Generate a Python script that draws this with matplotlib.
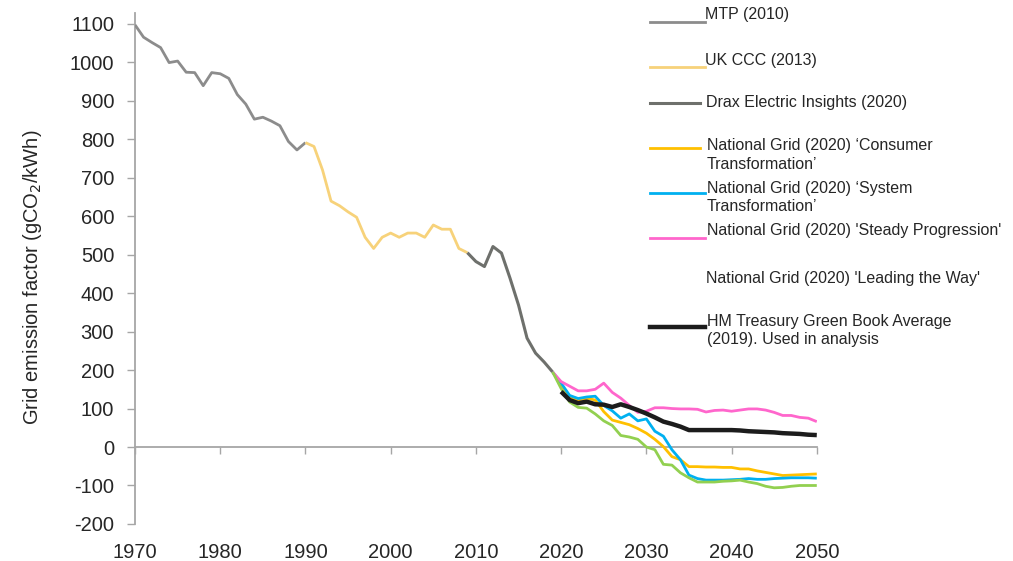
"""
Grid emission factor projections, UK, 1970-2050.
"""
import matplotlib
matplotlib.use("Agg")
import matplotlib.pyplot as plt
from matplotlib.lines import Line2D

plt.rcParams['font.family'] = ['Liberation Sans', 'DejaVu Sans']
plt.rcParams['axes.unicode_minus'] = False

# --- data (gCO2/kWh) ---
mtp_years = list(range(1970, 1991))
mtp_vals = [1097, 1065, 1051, 1038, 999, 1003, 974, 973, 939, 973, 970,
            958, 916, 891, 852, 857, 847, 835, 794, 772, 791]

ccc_years = list(range(1990, 2010))
ccc_vals = [791, 781, 720, 639, 627, 611, 597, 545, 516, 545, 556,
            545, 556, 556, 545, 577, 566, 566, 516, 505]

drax_years = list(range(2009, 2020))
drax_vals = [505, 482, 469, 521, 504, 439, 369, 283, 244, 221, 195]

scen_years = list(range(2019, 2051))
consumer_vals = [195, 162, 131, 122, 127, 122, 92, 70, 64, 58, 48,
                 36, 20, 1, -25, -33, -51, -51, -52, -52, -53,
                 -53, -57, -57, -62, -66, -70, -74, -73, -72, -71, -70]
system_vals = [195, 166, 134, 126, 130, 132, 108, 94, 75, 86, 68,
               73, 41, 28, -7, -33, -73, -82, -86, -86, -86,
               -85, -84, -82, -84, -84, -82, -81, -80, -80, -80, -81]
steady_vals = [195, 170, 158, 146, 146, 150, 166, 142, 127, 108, 90,
               93, 102, 102, 100, 99, 99, 98, 91, 95, 96,
               93, 96, 99, 99, 96, 90, 82, 82, 77, 75, 66]
leading_vals = [195, 152, 117, 103, 101, 86, 68, 56, 30, 26, 20,
                0, -7, -45, -47, -67, -80, -91, -91, -91, -89,
                -88, -86, -91, -95, -102, -106, -105, -102, -100, -100, -100]

hmt_years = list(range(2020, 2051))
hmt_vals = [144, 122, 114, 118, 111, 110, 104, 111, 104, 96,
            87, 77, 66, 60, 53, 44, 44, 44, 44, 44,
            44, 43, 41, 40, 39, 38, 36, 35, 34, 32, 31]

labels = ['MTP (2010)', 'UK CCC (2013)', 'Drax Electric Insights (2020)',
          "National Grid (2020) \u2018Consumer\nTransformation\u2019",
          "National Grid (2020) \u2018System\nTransformation\u2019",
          "National Grid (2020) 'Steady Progression'",
          "National Grid (2020) 'Leading the Way'",
          'HM Treasury Green Book Average\n(2019). Used in analysis']
colors = ['#8c8c8c', '#f7d27a', '#6e706c', '#ffc000', '#00b0f0',
          '#ff66cc', '#92d050', '#1c1c1c']
widths = [2.0, 2.0, 2.2, 2.0, 2.0, 2.0, 2.0, 3.2]

AXIS_GREY = '#a6a6a6'


def main():
    fig = plt.figure(figsize=(10.13, 5.61), dpi=100)
    ax = fig.add_axes([0.1333, 0.0660, 0.673, 0.9109])

    series = [(mtp_years, mtp_vals), (ccc_years, ccc_vals),
              (drax_years, drax_vals), (scen_years, consumer_vals),
              (scen_years, system_vals), (scen_years, steady_vals),
              (scen_years, leading_vals), (hmt_years, hmt_vals)]
    for i, (xs, ys) in enumerate(series):
        ax.plot(xs, ys, color=colors[i], lw=widths[i], zorder=3 + i,
                solid_joinstyle='round', solid_capstyle='butt')

    ax.set_xlim(1970, 2050)
    ax.set_ylim(-200, 1128)
    ax.set_yticks(range(-200, 1101, 100))
    ax.set_xticks(range(1970, 2051, 10))

    # x axis line sits on zero, labels stay at the bottom
    for side in ['top', 'right']:
        ax.spines[side].set_visible(False)
    ax.spines['bottom'].set_position(('data', 0))
    ax.spines['bottom'].set_color(AXIS_GREY)
    ax.spines['left'].set_color(AXIS_GREY)
    ax.spines['bottom'].set_linewidth(1.3)
    ax.spines['left'].set_linewidth(1.3)
    ax.tick_params(axis='x', direction='out', length=5, width=1,
                   color=AXIS_GREY, labelbottom=False)
    ax.tick_params(axis='y', direction='out', length=6, width=1,
                   color=AXIS_GREY, labelsize=14.5, pad=9,
                   labelcolor='#262626')

    sec = ax.secondary_xaxis('bottom')
    sec.set_xticks(range(1970, 2051, 10))
    sec.spines['bottom'].set_visible(False)
    sec.tick_params(length=0, labelsize=14.5, pad=14, labelcolor='#262626')

    ax.set_ylabel('Grid emission factor (gCO$_2$/kWh)', fontsize=14.5,
                  color='#262626')
    ax.yaxis.set_label_coords(-0.134, 0.482)

    # legend drawn by hand to keep the original irregular spacing
    W, H = 1013.0, 561.0
    handles = [(650, 705, 22), (650, 705, 67), (650, 700, 103),
               (650, 700, 148), (650, 705, 193), (650, 705, 238),
               None, (650, 705, 327)]
    text_pos = [(705, 15), (705, 60), (706, 103), (707, 155),
                (707, 197.5), (707, 231), (706, 278), (707, 330.5)]
    for i, lab in enumerate(labels):
        if handles[i] is not None:
            x0, x1, yy = handles[i]
            fig.add_artist(Line2D([x0 / W, x1 / W], [1 - yy / H, 1 - yy / H],
                                  color=colors[i], lw=widths[i],
                                  transform=fig.transFigure))
        tx, ty = text_pos[i]
        fig.text(tx / W, 1 - ty / H, lab, fontsize=11.5, color='#262626',
                 ha='left', va='center', linespacing=1.3)

    fig.savefig('out.png', dpi=100)


if __name__ == "__main__":
    main()
